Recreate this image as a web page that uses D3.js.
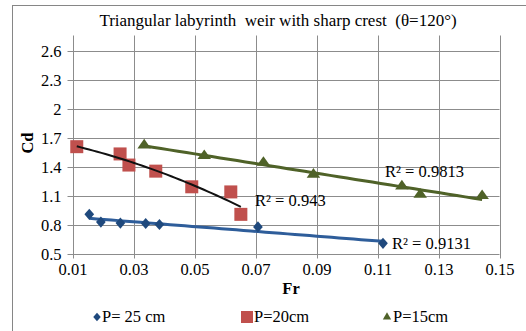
<!DOCTYPE html>
<html>
<head>
<meta charset="utf-8">
<script src="https://cdn.jsdelivr.net/npm/d3@7"></script>
<style>
  html, body { margin: 0; padding: 0; background: #fff; }
  svg { display: block; }
  text { font-family: "Liberation Serif", "Times New Roman", serif; fill: #000; white-space: pre; }
</style>
</head>
<body>
<svg id="chart" width="526" height="331"></svg>
<script>
// Froude number vs discharge coefficient, three weir heights
const p25Fr = [0.0155, 0.0193, 0.0257, 0.0340, 0.0385, 0.0708, 0.1118];
const p25Cd = [0.905, 0.825, 0.815, 0.810, 0.800, 0.775, 0.605];
const p20Fr = [0.0114, 0.0256, 0.0285, 0.0373, 0.0491, 0.0619, 0.0652];
const p20Cd = [1.605, 1.530, 1.415, 1.352, 1.190, 1.137, 0.905];
const p15Fr = [0.0335, 0.0532, 0.0726, 0.0890, 0.1180, 0.1240, 0.1443];
const p15Cd = [1.620, 1.510, 1.440, 1.318, 1.196, 1.110, 1.096];

const seriesNames = ["P= 25 cm", "P=20cm", "P=15cm"];
const r2Labels = ["R² = 0.9131", "R² = 0.943", "R² = 0.9813"];
const xTicks = [0.01, 0.03, 0.05, 0.07, 0.09, 0.11, 0.13, 0.15];
const yTicks = [0.5, 0.8, 1.1, 1.4, 1.7, 2.0, 2.3, 2.6];

const FS = 16.5;
const svg = d3.select("#chart");

// outer chart frame
svg.append("rect")
  .attr("x", 12.5).attr("y", 5.5)
  .attr("width", 600).attr("height", 400)
  .attr("fill", "none").attr("stroke", "#868686").attr("stroke-width", 1);

const x = d3.scaleLinear().domain([0.01, 0.15]).range([72.5, 499.5]);
const y = d3.scaleLinear().domain([0.5, 2.6]).range([253.5, 50.5]);
const plotTop = 35.5;

// gridlines
const grid = svg.append("g").attr("stroke", "#8c8c8c").attr("stroke-width", 1);
grid.selectAll("line.v").data(xTicks).join("line")
  .attr("x1", d => Math.round(x(d)) + 0.5).attr("x2", d => Math.round(x(d)) + 0.5)
  .attr("y1", plotTop).attr("y2", y(0.5) + 5);
grid.selectAll("line.h").data(yTicks).join("line")
  .attr("x1", x(0.01) - 5).attr("x2", x(0.15))
  .attr("y1", d => Math.round(y(d)) + 0.5).attr("y2", d => Math.round(y(d)) + 0.5);

// axis labels
const yAxis = d3.axisLeft(y).tickValues(yTicks).tickSize(0).tickPadding(11)
  .tickFormat(d => d3.format("")(+d.toFixed(1)));
svg.append("g").attr("transform", `translate(${x(0.01)},0)`).call(yAxis)
  .call(g => g.select(".domain").remove())
  .selectAll("text").attr("font-size", FS).attr("dy", "0.35em");

const xAxis = d3.axisBottom(x).tickValues(xTicks).tickSize(0).tickPadding(10)
  .tickFormat(d3.format(".2f"));
svg.append("g").attr("transform", `translate(0,${y(0.5)})`).call(xAxis)
  .call(g => g.select(".domain").remove())
  .selectAll("text").attr("font-size", FS);

// title and axis titles
svg.append("text").attr("x", 278).attr("y", 26).attr("text-anchor", "middle")
  .attr("font-size", 17).text("Triangular labyrinth  weir with sharp crest  (θ=120°)");
svg.append("text").attr("x", 291).attr("y", 294).attr("text-anchor", "middle")
  .attr("font-size", FS).attr("font-weight", "bold").text("Fr");
svg.append("text").attr("transform", "translate(33,143) rotate(-90)")
  .attr("text-anchor", "middle").attr("font-size", FS).attr("font-weight", "bold").text("Cd");

// least-squares polynomial fit
function polyFit(xs, ys, order) {
  const n = order + 1;
  const A = Array.from({length: n}, () => new Array(n + 1).fill(0));
  for (let i = 0; i < xs.length; i++) {
    for (let r = 0; r < n; r++) {
      for (let c = 0; c < n; c++) A[r][c] += Math.pow(xs[i], r + c);
      A[r][n] += ys[i] * Math.pow(xs[i], r);
    }
  }
  for (let i = 0; i < n; i++) {
    let p = i;
    for (let k = i + 1; k < n; k++) if (Math.abs(A[k][i]) > Math.abs(A[p][i])) p = k;
    [A[i], A[p]] = [A[p], A[i]];
    for (let k = 0; k < n; k++) {
      if (k === i) continue;
      const f = A[k][i] / A[i][i];
      for (let j = i; j <= n; j++) A[k][j] -= f * A[i][j];
    }
  }
  const coef = A.map((row, i) => row[n] / row[i]);
  return v => coef.reduce((s, c, i) => s + c * Math.pow(v, i), 0);
}

function trend(xs, ys, order, color, width) {
  const f = polyFit(xs, ys, order);
  const lo = d3.min(xs), hi = d3.max(xs);
  const pts = d3.range(0, 41).map(i => lo + (hi - lo) * i / 40);
  svg.append("path")
    .attr("d", d3.line().x(v => x(v)).y(v => y(f(v)))(pts))
    .attr("fill", "none").attr("stroke", color).attr("stroke-width", width);
}

const blue = "#1f497d", blueLine = "#2e5d9a";
const red = "#c0504d";
const green = "#4f6228";

trend(p25Fr, p25Cd, 1, blueLine, 3);
trend(p15Fr, p15Cd, 1, green, 3);

// markers
const diamond = d3.symbol().type(d3.symbolDiamond2).size(60);
const triangle = d3.symbol().type(d3.symbolTriangle).size(60);

svg.append("g").selectAll("path").data(d3.zip(p25Fr, p25Cd)).join("path")
  .attr("d", diamond).attr("fill", blue)
  .attr("transform", d => `translate(${x(d[0])},${y(d[1])}) scale(1,1.15)`);

svg.append("g").selectAll("rect").data(d3.zip(p20Fr, p20Cd)).join("rect")
  .attr("x", d => x(d[0]) - 6.5).attr("y", d => y(d[1]) - 6.5)
  .attr("width", 13).attr("height", 13).attr("fill", red);

svg.append("g").selectAll("path").data(d3.zip(p15Fr, p15Cd)).join("path")
  .attr("d", triangle).attr("fill", green)
  .attr("transform", d => `translate(${x(d[0])},${y(d[1])}) scale(1.15,0.95)`);

trend(p20Fr, p20Cd, 2, "#111", 2);

// R² labels
const r2Pos = [[392, 249], [255, 206], [385, 177]];
r2Labels.forEach((t, i) => {
  svg.append("text").attr("x", r2Pos[i][0]).attr("y", r2Pos[i][1])
    .attr("font-size", FS).text(t);
});

// legend
const leg = svg.append("g");
const legY = 317;
leg.append("path").attr("d", d3.symbol().type(d3.symbolDiamond2).size(36))
  .attr("fill", blue).attr("transform", `translate(97,${legY}) scale(1,1.15)`);
leg.append("text").attr("x", 102).attr("y", legY + 5).attr("font-size", FS).text(seriesNames[0]);
leg.append("rect").attr("x", 241).attr("y", legY - 6).attr("width", 12).attr("height", 12).attr("fill", red);
leg.append("text").attr("x", 254).attr("y", legY + 5).attr("font-size", FS).text(seriesNames[1]);
leg.append("path").attr("d", d3.symbol().type(d3.symbolTriangle).size(30))
  .attr("fill", green).attr("transform", `translate(387,${legY})`);
leg.append("text").attr("x", 393).attr("y", legY + 5).attr("font-size", FS).text(seriesNames[2]);
</script>
</body>
</html>
